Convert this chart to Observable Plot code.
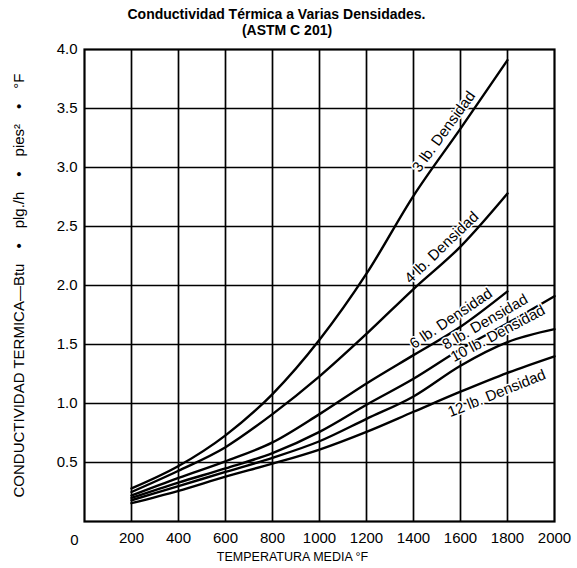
<!DOCTYPE html>
<html>
<head>
<meta charset="utf-8">
<script src="https://cdn.jsdelivr.net/npm/d3@7"></script>
<script src="https://cdn.jsdelivr.net/npm/@observablehq/plot@0.6"></script>
<style>
  body { margin: 0; background: #fff; }
  #chart svg { display: block; }
</style>
</head>
<body>
<div id="chart"></div>
<script>
// ---- data ----
const titleLines = ["Conductividad Térmica a Varias Densidades.", "\u2002\u2002\u2002(ASTM C 201)"];
const xLabel = "TEMPERATURA MEDIA °F";
const yLabel = "CONDUCTIVIDAD TERMICA\u2014Btu\u2002\u2002\u2022\u2002\u2002plg./h\u2002\u2002\u2022\u2002\u2002pies\u00b2\u2002\u2002\u2022\u2002\u2002°F";

const temps = [200, 400, 600, 800, 1000, 1200, 1400, 1600, 1800, 2000];
const seriesNames = ["3 lb. Densidad", "4 lb. Densidad", "6 lb. Densidad", "8 lb. Densidad", "10 lb. Densidad", "12 lb. Densidad"];
const k3  = [0.28, 0.47, 0.73, 1.08, 1.54, 2.10, 2.76, 3.33, 3.91];
const k4  = [0.25, 0.43, 0.63, 0.91, 1.23, 1.59, 1.97, 2.33, 2.78];
const k6  = [0.22, 0.37, 0.51, 0.67, 0.91, 1.17, 1.41, 1.65, 1.95];
const k8  = [0.20, 0.33, 0.45, 0.58, 0.76, 0.99, 1.21, 1.46, 1.68, 1.91];
const k10 = [0.18, 0.30, 0.42, 0.54, 0.68, 0.87, 1.06, 1.32, 1.52, 1.63];
const k12 = [0.155, 0.26, 0.38, 0.49, 0.61, 0.76, 0.93, 1.10, 1.26, 1.40];

const xTicks = [200, 400, 600, 800, 1000, 1200, 1400, 1600, 1800, 2000];
const yTicks = [0.5, 1.0, 1.5, 2.0, 2.5, 3.0, 3.5, 4.0];
const cornerTick = ["0"];

// curve-label annotations: temperature along the curve where each label sits,
// its angle, and which side of the curve it is on (+ above, - below)
const labelTemp  = [1570, 1555, 1588, 1730, 1783, 1730];
const labelAngle = [-54, -44, -34, -30, -28, -22];
const labelSide  = [1, 1, 1, 1, 1, -1];

// ---- build tables ----
const allSeries = [k3, k4, k6, k8, k10, k12];
const rows = [];
allSeries.forEach((vals, s) => vals.forEach((v, i) => rows.push({series: seriesNames[s], t: temps[i], k: v})));

function valueAt(vals, t) {
  const ts = temps.slice(0, vals.length);
  const i = Math.max(0, Math.min(ts.length - 2, d3.bisectRight(ts, t) - 1));
  const f = (t - ts[i]) / (ts[i + 1] - ts[i]);
  return vals[i] + f * (vals[i + 1] - vals[i]);
}

const font = "'Liberation Sans', Arial, Helvetica, sans-serif";

const labelMarks = seriesNames.map((name, i) => {
  const r = labelAngle[i] * Math.PI / 180;
  const d = labelSide[i] > 0 ? 12 : -15;
  return Plot.text([{name, t: labelTemp[i], k: valueAt(allSeries[i], labelTemp[i])}], {
    x: "t", y: "k", text: "name", rotate: labelAngle[i],
    dx: d * Math.sin(r), dy: -d * Math.cos(r),
    fontSize: 15, fill: "black", stroke: "white", strokeWidth: 3, paintOrder: "stroke"
  });
});

const chart = Plot.plot({
  width: 577,
  height: 568,
  marginLeft: 84,
  marginRight: 23,
  marginTop: 49,
  marginBottom: 47,
  style: {fontFamily: font, fontSize: "15px", color: "black", background: "white"},
  x: {domain: [0, 2000]},
  y: {domain: [0, 4]},
  marks: [
    Plot.gridX(xTicks.filter(d => d < 2000), {stroke: "black", strokeOpacity: 1, strokeWidth: 1.7}),
    Plot.gridY(yTicks.filter(d => d < 4), {stroke: "black", strokeOpacity: 1, strokeWidth: 1.7}),
    Plot.frame({stroke: "black", strokeWidth: 2.2}),
    Plot.axisX(xTicks, {tickSize: 0, tickPadding: 11, fontSize: 15, tickFormat: d => String(d), label: null}),
    Plot.axisY(yTicks, {tickSize: 0, tickPadding: 7, fontSize: 15, tickFormat: d3.format(".1f"), label: null}),
    Plot.text(cornerTick, {x: () => 0, y: () => 0, text: d => d, dx: -10, dy: 19, fontSize: 15}),
    Plot.line(rows, {x: "t", y: "k", z: "series", stroke: "black", strokeWidth: 2.4, curve: "monotone-x"}),
    ...labelMarks,
    Plot.text([xLabel], {frameAnchor: "bottom", text: d => d, dy: 39, dx: -27, fontSize: 12.5}),
    Plot.text([yLabel], {frameAnchor: "left", textAnchor: "middle", lineAnchor: "middle", text: d => d, rotate: -90, dx: -65, dy: 0, fontSize: 15}),
    Plot.text([titleLines.join("\n")], {frameAnchor: "top", text: d => d, lineAnchor: "middle", lineHeight: 1.15,
      dy: -28, dx: -43, fontSize: 14, fontWeight: "bold"})
  ]
});
document.getElementById("chart").appendChild(chart);
</script>
</body>
</html>
